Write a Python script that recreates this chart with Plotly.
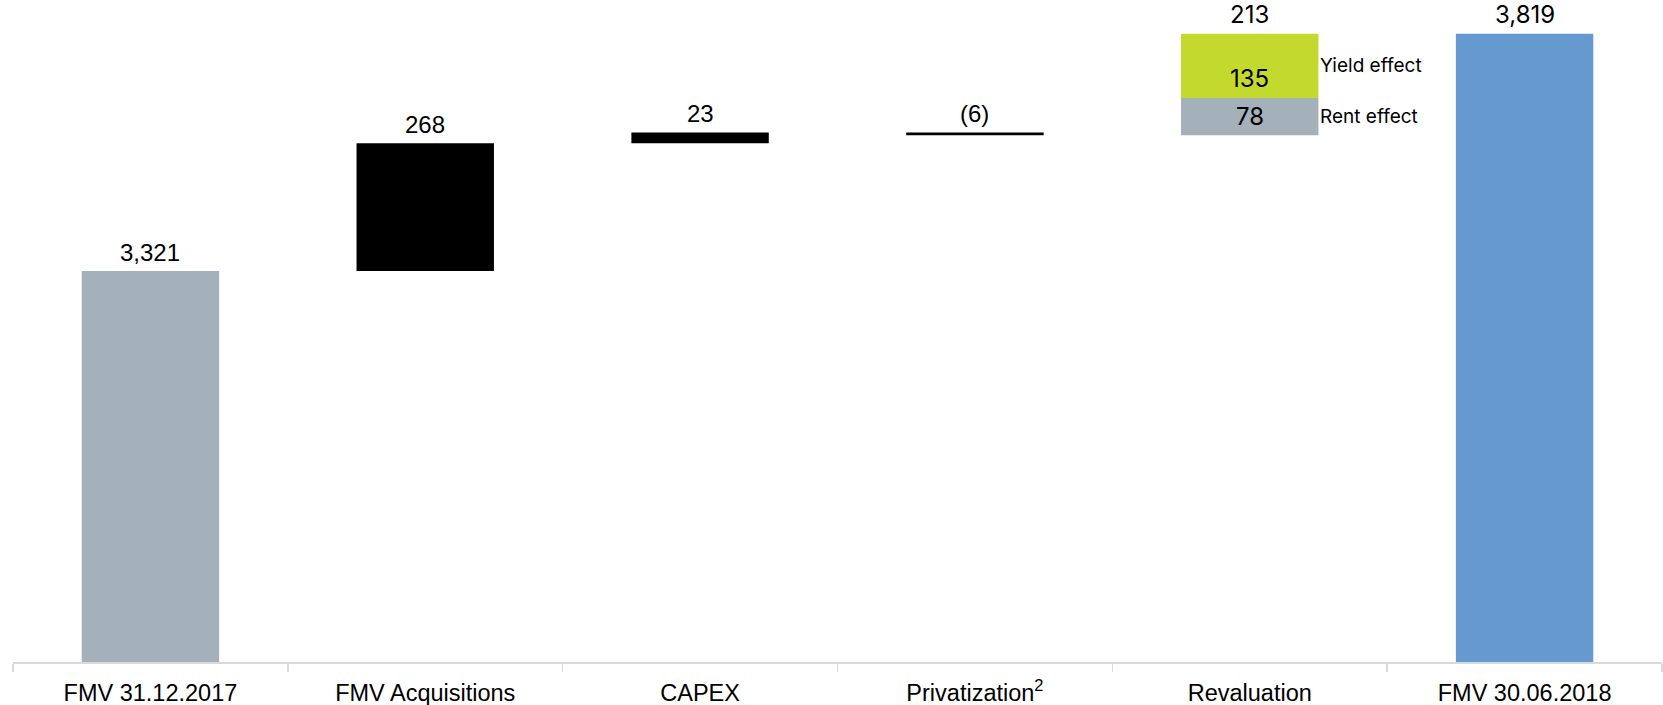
import plotly.graph_objects as go

# ---- data ----
categories = ["FMV 31.12.2017", "FMV Acquisitions", "CAPEX",
              "Privatization<sup>2</sup>", "Revaluation", "FMV 30.06.2018"]
start_value = 3321
step_categories = ["FMV Acquisitions", "CAPEX", "Privatization<sup>2</sup>"]
step_values = [268, 23, -6]
rent_effect = 78
yield_effect = 135
end_value = 3819

# ---- styles ----
GREY = "#A5B1BA"
BLACK = "#000000"
BLUE = "#6699CF"
GREEN = "#C4D92E"
ARIAL = "Liberation Sans, Arial, sans-serif"
WORK = "Inter, Noto Sans, sans-serif"


def fmt(v):
    return f"({abs(v):,})" if v < 0 else f"{v:,}"


# cumulative steps
bases, heights, tops = [], [], []
level = start_value
for v in step_values:
    new_level = level + v
    bases.append(min(level, new_level))
    heights.append(abs(v))
    tops.append(max(level, new_level))
    level = new_level
reval_base = level
reval_total = rent_effect + yield_effect

fig = go.Figure()
fig.add_trace(go.Bar(x=[categories[0], categories[5]], y=[start_value, end_value],
                     base=[0, 0], marker=dict(color=[GREY, BLUE], line=dict(width=0)),
                     hoverinfo="skip"))
fig.add_trace(go.Bar(x=step_categories, y=heights, base=bases,
                     marker=dict(color=BLACK, line=dict(width=0)), hoverinfo="skip"))
fig.add_trace(go.Bar(x=[categories[4]], y=[rent_effect], base=[reval_base],
                     marker=dict(color=GREY, line=dict(width=0)), hoverinfo="skip"))
fig.add_trace(go.Bar(x=[categories[4]], y=[yield_effect], base=[reval_base + rent_effect],
                     marker=dict(color=GREEN, line=dict(width=0)), hoverinfo="skip"))

ann = []
label_items = [(categories[0], start_value, fmt(start_value), ARIAL)]
for c, t, v in zip(step_categories, tops, step_values):
    label_items.append((c, t, fmt(v), ARIAL))
label_items.append((categories[4], reval_base + reval_total, fmt(reval_total), WORK))
label_items.append((categories[5], end_value, fmt(end_value), WORK))
for c, t, txt, f in label_items:
    ann.append(dict(x=c, y=t, text=txt, showarrow=False, yanchor="bottom",
                    yshift=4, borderpad=0, font=dict(family=f, size=24, color="#000")))

# inner labels in revaluation
ann.append(dict(x=categories[4], y=reval_base + rent_effect, text=fmt(yield_effect),
                showarrow=False, yanchor="bottom", yshift=4, borderpad=0,
                font=dict(family=WORK, size=24, color="#000")))
ann.append(dict(x=categories[4], y=reval_base + rent_effect / 2, text=fmt(rent_effect),
                showarrow=False, yanchor="middle", borderpad=0,
                font=dict(family=WORK, size=24, color="#000")))
# side labels
ann.append(dict(x=4.25, y=reval_base + rent_effect + yield_effect / 2, text="Yield effect",
                showarrow=False, xanchor="left", yanchor="middle", xshift=1, borderpad=0,
                font=dict(family=WORK, size=19, color="#000")))
ann.append(dict(x=4.25, y=reval_base + rent_effect / 2, text="Rent effect",
                showarrow=False, xanchor="left", yanchor="middle", xshift=1, borderpad=0,
                font=dict(family=WORK, size=19, color="#000")))

fig.update_layout(
    width=1663, height=705,
    margin=dict(l=13, r=1, t=0, b=43, autoexpand=False),
    barmode="overlay", bargap=0.5,
    showlegend=False,
    plot_bgcolor="white", paper_bgcolor="white",
    annotations=ann,
    xaxis=dict(type="category", categoryorder="array", categoryarray=categories,
               automargin=False,
               showline=True, linecolor="#D9D9D9", linewidth=1.5,
               ticks="outside", tickson="boundaries", ticklen=8, tickcolor="#D9D9D9",
               tickwidth=1.5, showgrid=False, ticklabelstandoff=9,
               tickfont=dict(family=ARIAL, size=23.5, color="#000")),
    yaxis=dict(range=[2500, 3890], visible=False, showgrid=False, zeroline=False,
               automargin=False),
)

fig.write_html("out.html", config={"displayModeBar": False, "staticPlot": True},
               post_script="document.body.style.margin='0';document.body.style.overflow='hidden';")
